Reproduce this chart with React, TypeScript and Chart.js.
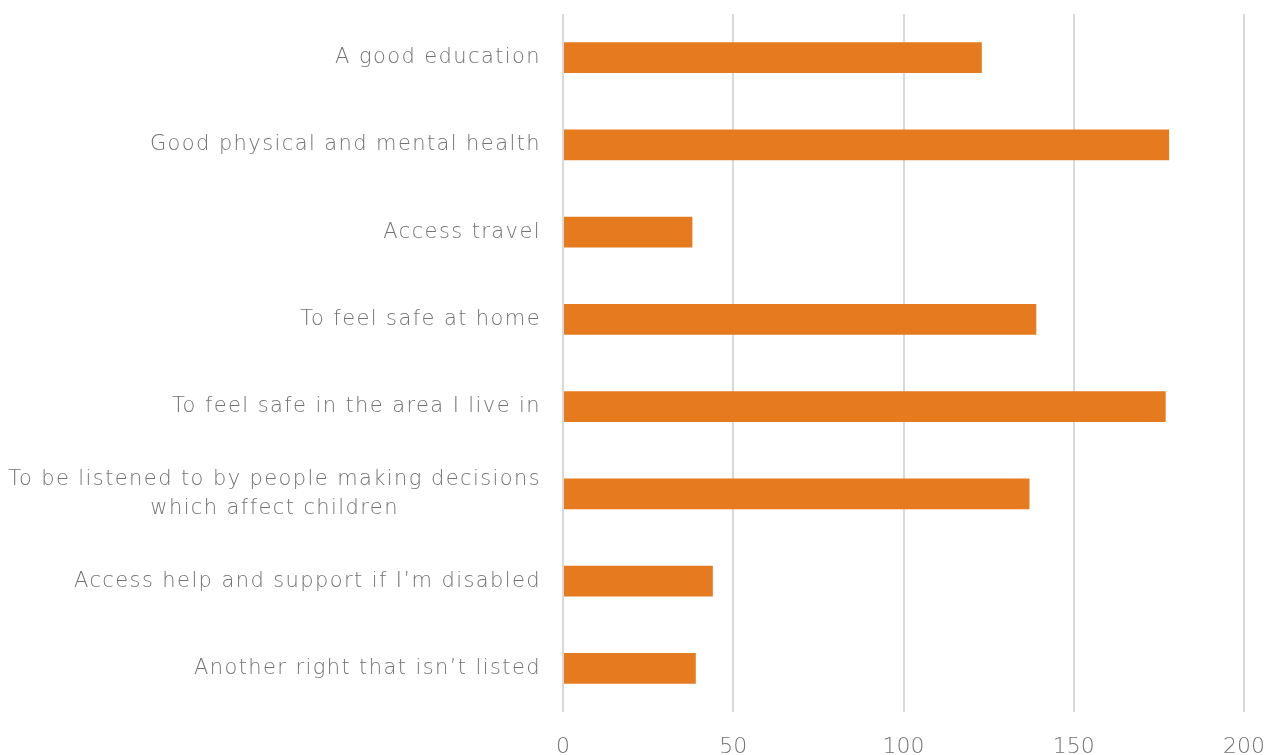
import React, { useEffect, useRef } from "react";
import { Chart, registerables } from "chart.js";

Chart.register(...registerables);

const categories: (string | string[])[] = [
  "A good education",
  "Good physical and mental health",
  "Access travel",
  "To feel safe at home",
  "To feel safe in the area I live in",
  ["To be listened to by people making decisions", "which affect children"],
  "Access help and support if I\u2019m disabled",
  "Another right that isn\u2019t listed",
];
const values: number[] = [123, 178, 38, 139, 177, 137, 44, 39];
const xTicks: number[] = [0, 50, 100, 150, 200];

const BAR = "#E67A1F";
const TEXT = "#727272";
const GRID = "#D9D9D9";
const FONT_FAMILY = "'DejaVu Sans', sans-serif";
const FONT_SIZE = 21;
const FONT_WEIGHT = "200";

const yLabelPlugin = {
  id: "yLabels",
  afterDraw(chart: any) {
    const ctx = chart.ctx;
    const y = chart.scales.y;
    const right = chart.chartArea.left - 22;
    const lineH = 29;
    ctx.save();
    ctx.fillStyle = TEXT;
    ctx.font = `${FONT_WEIGHT} ${FONT_SIZE}px ${FONT_FAMILY}`;
    (ctx as any).letterSpacing = "1.4px";
    ctx.textBaseline = "middle";
    categories.forEach((lab, i) => {
      const cy = y.getPixelForValue(i);
      if (Array.isArray(lab)) {
        const widths = lab.map((l) => ctx.measureText(l).width);
        const maxW = Math.max(...widths);
        const cx = right - maxW / 2;
        ctx.textAlign = "center";
        lab.forEach((l, j) => {
          ctx.fillText(l, cx, cy + (j - (lab.length - 1) / 2) * lineH);
        });
      } else {
        ctx.textAlign = "right";
        ctx.fillText(lab, right, cy);
      }
    });
    ctx.restore();
  },
};

export default function App() {
  const ref = useRef<HTMLCanvasElement>(null);
  useEffect(() => {
    document.body.style.margin = "0";
    const chart = new Chart(ref.current!, {
      type: "bar",
      data: {
        labels: categories.map((c) => (Array.isArray(c) ? c.join(" ") : c)),
        datasets: [
          {
            data: values,
            backgroundColor: BAR,
            barPercentage: 0.355,
            categoryPercentage: 1,
          },
        ],
      },
      options: {
        indexAxis: "y",
        animation: false,
        responsive: false,
        maintainAspectRatio: false,
        layout: { padding: { top: 14, right: 35, left: 0, bottom: 0 } },
        plugins: { legend: { display: false }, tooltip: { enabled: false } },
        scales: {
          x: {
            min: 0,
            max: 200,
            afterBuildTicks: (s: any) => {
              s.ticks = xTicks.map((v) => ({ value: v }));
            },
            afterFit: (s: any) => {
              s.height = 43;
              s.paddingLeft = 0;
              s.paddingRight = 0;
            },
            grid: { color: GRID, lineWidth: 2, drawTicks: false },
            border: { display: false },
            ticks: {
              color: TEXT,
              padding: 22,
              maxRotation: 0,
              font: { family: FONT_FAMILY, size: 22, weight: FONT_WEIGHT as any },
            },
          },
          y: {
            grid: { display: false },
            border: { display: false },
            ticks: { display: false },
            afterFit: (s: any) => {
              s.width = 563;
            },
          },
        },
      },
      plugins: [yLabelPlugin],
    });
    return () => chart.destroy();
  }, []);
  return (
    <div style={{ position: "fixed", left: 0, top: 0, width: 1279, height: 755, overflow: "hidden", background: "#fff" }}>
      <canvas ref={ref} width={1279} height={755} style={{ width: 1279, height: 755 }} />
    </div>
  );
}
